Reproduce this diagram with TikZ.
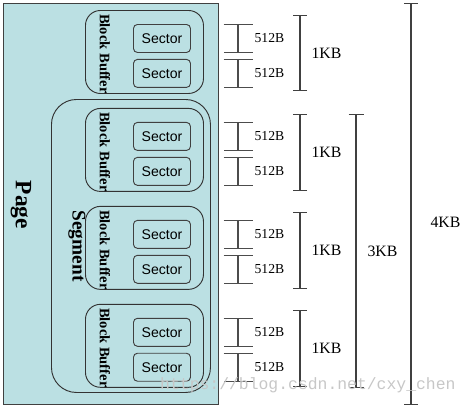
\documentclass[tikz,border=0pt]{standalone}
\usepackage{fontspec}
\setmainfont{Liberation Serif}
\setsansfont{Liberation Sans}
\setmonofont{Liberation Mono}
\usepackage{tikz}
\usetikzlibrary{arrows.meta, positioning, calc}
\definecolor{pagecyan}{RGB}{187,224,227}

\begin{document}
\begin{tikzpicture}[
        x=0.03cm, y=-0.03cm,
        node distance=0mm,
        pagebox/.style={draw=black!75, line width=1pt, rectangle, fill=pagecyan, minimum width=6.45cm, minimum height=12.03cm, anchor=north west},
        segbox/.style={draw=black!80, line width=0.8pt, rectangle, rounded corners=0.75cm, minimum width=4.77cm, minimum height=8.79cm, anchor=north west},
        bufbox/.style={draw=black!80, line width=0.8pt, rectangle, rounded corners=0.45cm, minimum width=3.54cm, minimum height=2.49cm},
        sectorbox/.style={draw=black!75, line width=0.8pt, rectangle, rounded corners=0.12cm, minimum width=1.71cm, minimum height=0.84cm, inner sep=0pt, font=\sffamily\fontsize{12}{14}\selectfont},
        buflabel/.style={rotate=-90, inner sep=0pt, font=\bfseries\fontsize{12.4}{14}\selectfont},
        biglabel/.style={rotate=-90, inner sep=0pt, font=\bfseries\fontsize{16.5}{18}\selectfont},
        secdim/.style={draw=black!70, line width=1pt, {Bar[width=0.87cm]}-{Bar[width=0.87cm]}},
        kbdim/.style={draw=black!75, line width=1pt, {Bar[width=0.42cm]}-{Bar[width=0.42cm]}},
        numlabel/.style={inner sep=0pt, font=\fontsize{11.7}{14}\selectfont},
        kblabel/.style={inner sep=0pt, font=\fontsize{13.5}{16}\selectfont}
    ]
        \useasboundingbox (0,0) rectangle (474,408);

        % Page and segment
        \node[pagebox] (page) at (3,3) {};
        \node[segbox] (seg) at (51,99) {};
        \node[biglabel, font=\bfseries\fontsize{20}{22}\selectfont] (pagetxt) at (21,205) {Page};
        \node[biglabel] (segtxt) at (77,246) {Segment};

        % Block buffers
        \node[bufbox, anchor=north west] (buf1) at (85,10) {};
        \node[bufbox, below=0.42cm of buf1] (buf2) {};
        \node[bufbox, below=0.42cm of buf2] (buf3) {};
        \node[bufbox, below=0.42cm of buf3] (buf4) {};

        \node[buflabel] (buflbl1) at ($(buf1.west)+(20,2)$) {Block Buffer};
        \node[buflabel] (buflbl2) at ($(buf2.west)+(20,2)$) {Block Buffer};
        \node[buflabel] (buflbl3) at ($(buf3.west)+(20,2)$) {Block Buffer};
        \node[buflabel] (buflbl4) at ($(buf4.west)+(20,2)$) {Block Buffer};

        % Sectors
        \node[sectorbox, anchor=north east] (sec1a) at ($(buf1.north east)+(-13,14)$) {Sector};
        \node[sectorbox, below=0.18cm of sec1a] (sec1b) {Sector};
        \node[sectorbox, anchor=north east] (sec2a) at ($(buf2.north east)+(-13,14)$) {Sector};
        \node[sectorbox, below=0.18cm of sec2a] (sec2b) {Sector};
        \node[sectorbox, anchor=north east] (sec3a) at ($(buf3.north east)+(-13,14)$) {Sector};
        \node[sectorbox, below=0.18cm of sec3a] (sec3b) {Sector};
        \node[sectorbox, anchor=north east] (sec4a) at ($(buf4.north east)+(-13,14)$) {Sector};
        \node[sectorbox, below=0.18cm of sec4a] (sec4b) {Sector};

        % Sizes
        \coordinate (tickx) at (238,0);
        \coordinate (kbx) at (300,0);
        \coordinate (kb3x) at (356,0);
        \coordinate (kb4x) at (411,0);

        \draw[secdim] (sec1a.north -| tickx) -- (sec1a.south -| tickx) node[numlabel, midway, right=0.48cm] (sz1a) {512B};
        \draw[secdim] (sec1b.north -| tickx) -- (sec1b.south -| tickx) node[numlabel, midway, right=0.48cm] (sz1b) {512B};
        \draw[secdim] (sec2a.north -| tickx) -- (sec2a.south -| tickx) node[numlabel, midway, right=0.48cm] (sz2a) {512B};
        \draw[secdim] (sec2b.north -| tickx) -- (sec2b.south -| tickx) node[numlabel, midway, right=0.48cm] (sz2b) {512B};
        \draw[secdim] (sec3a.north -| tickx) -- (sec3a.south -| tickx) node[numlabel, midway, right=0.48cm] (sz3a) {512B};
        \draw[secdim] (sec3b.north -| tickx) -- (sec3b.south -| tickx) node[numlabel, midway, right=0.48cm] (sz3b) {512B};
        \draw[secdim] (sec4a.north -| tickx) -- (sec4a.south -| tickx) node[numlabel, midway, right=0.48cm] (sz4a) {512B};
        \draw[secdim] (sec4b.north -| tickx) -- (sec4b.south -| tickx) node[numlabel, midway, right=0.48cm] (sz4b) {512B};

        \draw[kbdim] ($(buf1.north -| kbx)+(0,5)$) -- ($(buf1.south -| kbx)+(0,-3)$) node[kblabel, midway, right=0.33cm] (kb1) {1KB};
        \draw[kbdim] ($(buf2.north -| kbx)+(0,6)$) -- ($(buf2.south -| kbx)+(0,-1)$) node[kblabel, midway, right=0.33cm] (kb2) {1KB};
        \draw[kbdim] ($(buf3.north -| kbx)+(0,6)$) -- ($(buf3.south -| kbx)+(0,-1)$) node[kblabel, midway, right=0.33cm] (kb3) {1KB};
        \draw[kbdim] ($(buf4.north -| kbx)+(0,6)$) -- ($(buf4.south -| kbx)+(0,-1)$) node[kblabel, midway, right=0.33cm] (kb4) {1KB};

        \draw[kbdim, {Bar[width=0.45cm]}-{Bar[width=0.45cm]}] ($(buf2.north -| kb3x)+(0,6)$) -- (buf4.south -| kb3x) node[kblabel, midway, right=0.33cm] (kbseg) {3KB};
        \draw[kbdim, {Bar[width=0.42cm]}-{Bar[width=0.42cm]}] (page.north -| kb4x) -- (page.south -| kb4x) node[kblabel, pos=0.545, right=0.57cm] (kbpage) {4KB};

        % Watermark
        \node[anchor=west, inner sep=0pt, text=black!22, font=\ttfamily\fontsize{14}{16}\selectfont] (mark) at (160,385) {https://blog.csdn.net/cxy\_chen};

    \end{tikzpicture}
\end{document}
